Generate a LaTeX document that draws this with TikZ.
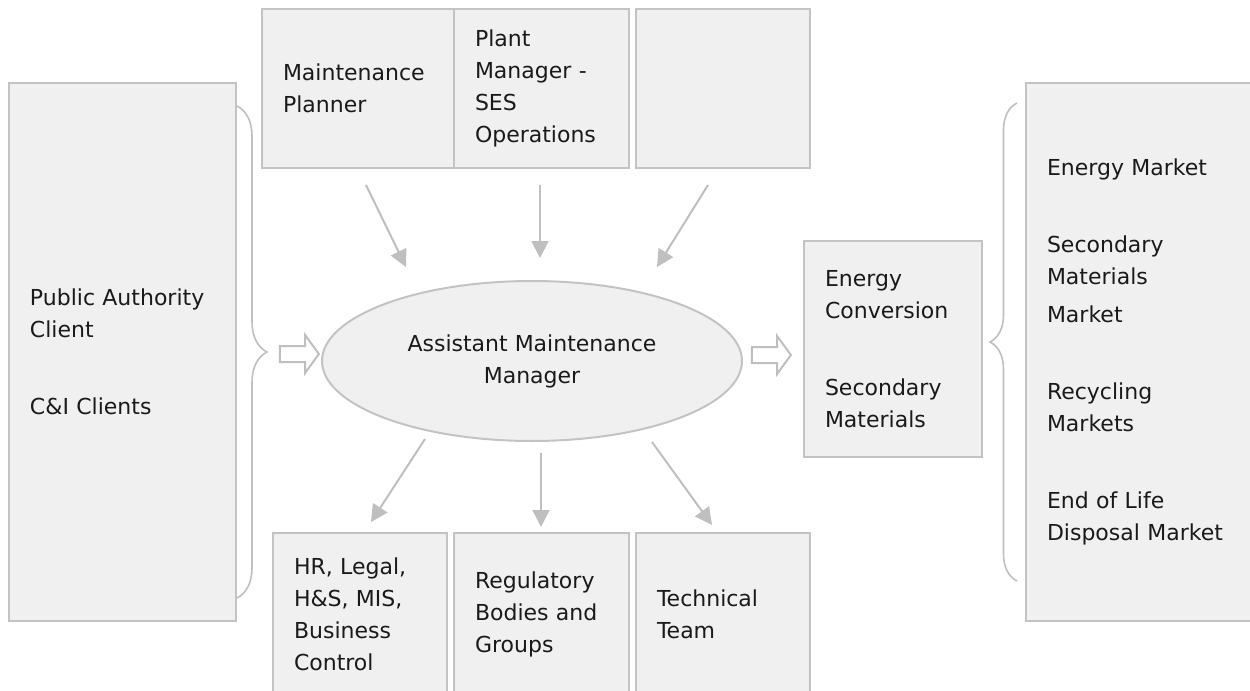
\documentclass[tikz,border=0pt]{standalone}
\usepackage{fontspec}
\setmainfont{DejaVu Sans}
\usetikzlibrary{arrows.meta,shapes.geometric,shapes.arrows,decorations.pathreplacing}
\definecolor{boxfill}{HTML}{F0F0F0}
\definecolor{boxline}{HTML}{C3C3C3}
\definecolor{flowgray}{HTML}{BFBFBF}
\definecolor{ink}{HTML}{1A1A1A}

\begin{document}
\begin{tikzpicture}[x=.5pt,y=-.5pt,>={Triangle[length=8.5pt,width=8.5pt]},
  font=\fontsize{11}{16}\selectfont,text=ink,
  box/.style={draw=boxline,fill=boxfill,line width=1pt,inner xsep=10.5pt,inner ysep=0pt,align=left},
  flow/.style={->,draw=flowgray,line width=1pt},
  hollow/.style={single arrow,draw=flowgray,line width=1pt,fill=white,inner xsep=0pt,inner ysep=3.5pt,
    minimum height=19.5pt,single arrow head extend=5.5pt,single arrow tip angle=108},
  brc/.style={draw=flowgray,line width=.8pt,decorate}]
 \useasboundingbox (0,0) rectangle (1250,691);
 \clip (0,0) rectangle (1250,691);
 % clients
 \node[box,text width=92.5pt,minimum height=269pt] (client) at (122.5,352) {Public Authority\\Client\\[22.5pt]C\&I Clients};
 \draw[brc,decoration={brace,amplitude=15pt}] (237,106) -- (237,598);
 \node[hollow] (inarrow) at (296.5,354) {};
 % upper row
 \node[box,text width=75pt,minimum height=79.5pt] (planner) at (358,88.5) {Maintenance\\Planner};
 \node[box,text width=66.5pt,minimum height=79.5pt] (plantmgr) at (541.5,88.5) {Plant\\Manager -\\SES\\Operations};
 \node[box,text width=66pt,minimum height=79.5pt] (spare) at (723,88.5) {};
 % centre
 \node[draw=boxline,fill=boxfill,line width=1pt,ellipse,minimum width=210pt,minimum height=80pt,align=center] (amm) at (532,361) {Assistant Maintenance\\Manager};
 % lower row
 \node[box,text width=66pt,minimum height=81pt] (support) at (360,614) {HR, Legal,\\H\&S, MIS,\\Business\\Control};
 \node[box,text width=66.5pt,minimum height=81pt] (regbody) at (541.5,614) {Regulatory\\Bodies and\\Groups};
 \node[box,text width=66pt,minimum height=81pt] (techteam) at (723,614) {Technical\\Team};
 % outputs
 \node[hollow] (outarrow) at (768.5,355) {};
 \node[box,text width=68pt,minimum height=108pt] (conv) at (893,349) {Energy\\Conversion\\[22.5pt]Secondary\\Materials};
 \draw[brc,decoration={brace,amplitude=13.5pt}] (1017,581) -- (1017,103);
 \node[box,text width=101pt,minimum height=269pt] (markets) at (1148,352) {Energy Market\\[22.5pt]Secondary\\Materials\\[3pt]Market\\[22.5pt]Recycling\\Markets\\[22.5pt]End of Life\\Disposal Market};
 % arrows in and out of the manager
 \coordinate (in1) at (366,185);  \coordinate (to1) at (406,267);
 \coordinate (in2) at (540,185);  \coordinate (to2) at (540,258);
 \coordinate (in3) at (708,185);  \coordinate (to3) at (657,267);
 \coordinate (out1) at (425,439); \coordinate (at1) at (371,522);
 \coordinate (out2) at (541,453); \coordinate (at2) at (541,527);
 \coordinate (out3) at (652,442); \coordinate (at3) at (712,525);
 \foreach \s/\t in {in1/to1,in2/to2,in3/to3,out1/at1,out2/at2,out3/at3}
  \draw[flow] (\s) -- (\t);
\end{tikzpicture}
\end{document}
